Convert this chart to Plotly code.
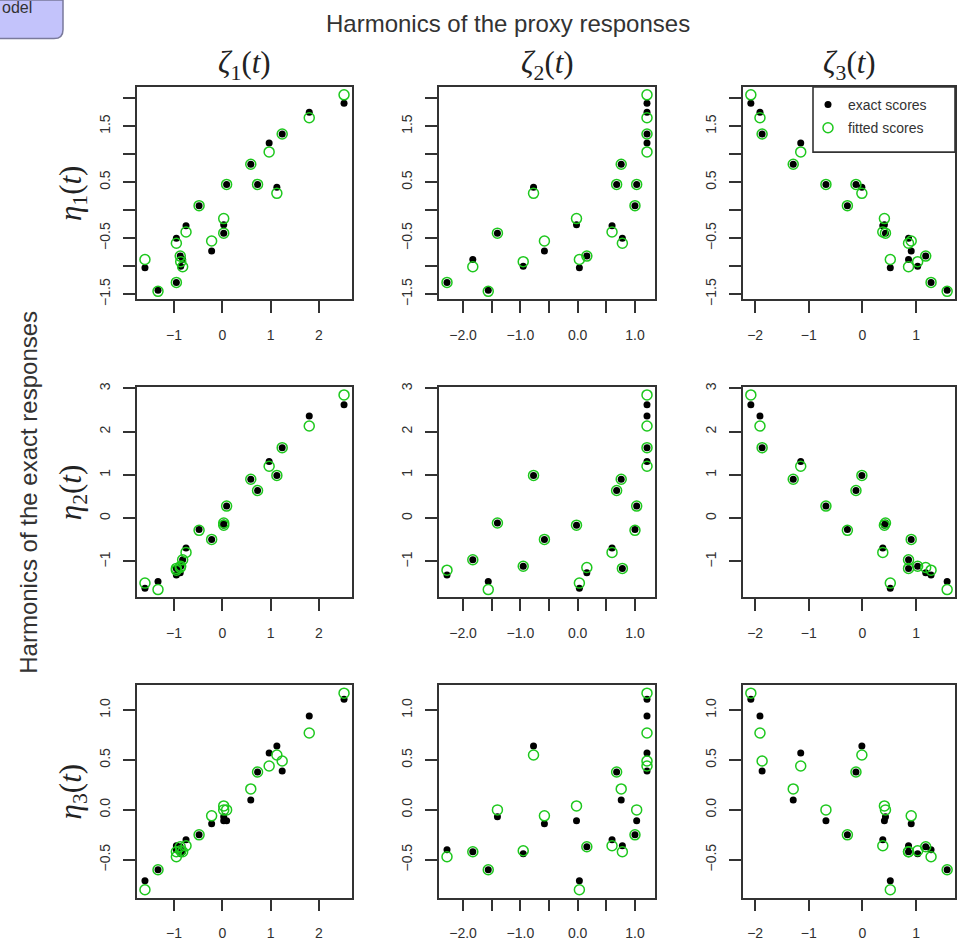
import numpy as np
import plotly.graph_objects as go

# ---------------- data ----------------
zeta1 = [-1.60, -1.33, -0.95, -0.95, -0.82, -0.86, -0.87, -0.75, -0.48, -0.22,
         0.03, 0.03, 0.09, 0.59, 0.73, 0.97, 1.13, 1.24, 1.80, 2.52]
zeta2 = [0.03, -1.56, -2.28, 0.78, -1.83, -0.95, 0.16, 0.60, 1.00, -0.58,
         -0.02, -1.40, 1.03, 0.76, 0.68, 1.21, -0.77, 1.21, 1.21, 1.21]
zeta3 = [0.52, 1.58, 1.28, 0.86, 0.86, 1.03, 1.18, 0.38, -0.28, 0.91,
         0.41, 0.43, -0.68, -1.29, -0.12, -1.15, -0.01, -1.87, -1.91, -2.08]

eta1_exact = [-1.03, -1.43, -1.29, -0.50, -0.88, -1.00, -0.82, -0.28, 0.08, -0.73,
              -0.26, -0.41, 0.46, 0.82, 0.46, 1.20, 0.41, 1.36, 1.75, 1.91]
eta1_fit = [-0.88, -1.45, -1.29, -0.59, -1.01, -0.92, -0.82, -0.39, 0.08, -0.55,
            -0.15, -0.41, 0.46, 0.82, 0.46, 1.04, 0.30, 1.36, 1.65, 2.06]
eta2_exact = [-1.62, -1.46, -1.31, -1.16, -0.96, -1.11, -1.26, -0.69, -0.26, -0.49,
              -0.16, -0.11, 0.28, 0.90, 0.64, 1.31, 0.99, 1.63, 2.36, 2.62]
eta2_fit = [-1.50, -1.65, -1.20, -1.16, -0.96, -1.11, -1.14, -0.79, -0.28, -0.49,
            -0.16, -0.11, 0.28, 0.90, 0.64, 1.20, 0.99, 1.63, 2.13, 2.85]
eta3_exact = [-0.71, -0.60, -0.40, -0.36, -0.42, -0.44, -0.37, -0.30, -0.25, -0.14,
              -0.11, -0.07, -0.11, 0.10, 0.38, 0.57, 0.64, 0.39, 0.94, 1.11]
eta3_fit = [-0.80, -0.60, -0.47, -0.42, -0.42, -0.41, -0.37, -0.36, -0.25, -0.06,
            0.04, 0.00, 0.00, 0.21, 0.38, 0.44, 0.55, 0.49, 0.77, 1.17]

col_titles = ["<i>ζ</i><sub>1</sub>(<i>t</i>)", "<i>ζ</i><sub>2</sub>(<i>t</i>)", "<i>ζ</i><sub>3</sub>(<i>t</i>)"]
row_titles = ["<i>η</i><sub>1</sub>(<i>t</i>)", "<i>η</i><sub>2</sub>(<i>t</i>)", "<i>η</i><sub>3</sub>(<i>t</i>)"]

# labelled ticks
x_tickvals = [[-1, 0, 1, 2], [-2.0, -1.0, 0.0, 1.0], [-2, -1, 0, 1]]
x_ticktext = [["−1", "0", "1", "2"], ["−2.0", "−1.0", "0.0", "1.0"], ["−2", "−1", "0", "1"]]
# unlabelled ticks (labels dropped by overlap in the original)
x_minorvals = [[], [-1.5, -0.5, 0.5], []]
y_tickvals = [[-1.5, -0.5, 0.5, 1.5], [-1, 0, 1, 2, 3], [-0.5, 0.0, 0.5, 1.0]]
y_ticktext = [["−1.5", "−0.5", "0.5", "1.5"], ["−1", "0", "1", "2", "3"],
              ["−0.5", "0.0", "0.5", "1.0"]]
y_minorvals = [[-1.0, 0.0, 1.0, 2.0], [], []]

main_title = "Harmonics of the proxy responses"
side_title = "Harmonics of the exact responses"
legend_labels = ["exact scores", "fitted scores"]

# ---------------- layout helpers ----------------
W, H = 957, 948
col_px = [(137, 352), (439, 655), (743, 955)]
row_px = [(83, 298), (387, 600), (689, 904)]
GREEN = "#1ec81e"
AXC = "#333333"
FONT = "Liberation Sans, Arial, Helvetica, sans-serif"
SERIF = "Liberation Serif, Times New Roman, DejaVu Serif, serif"


def px_x(p):
    return p / W


def px_y(p):
    return 1 - p / H


def rrange(vals):
    lo, hi = float(np.min(vals)), float(np.max(vals))
    d = (hi - lo) * 0.04
    return [lo - d, hi + d]


zetas = [zeta1, zeta2, zeta3]
etas_e = [eta1_exact, eta2_exact, eta3_exact]
etas_f = [eta1_fit, eta2_fit, eta3_fit]

fig = go.Figure()
layout = {}
k = 0
for i in range(3):
    for j in range(3):
        k += 1
        xa = "x" if k == 1 else f"x{k}"
        ya = "y" if k == 1 else f"y{k}"
        fig.add_trace(go.Scatter(
            x=zetas[j], y=etas_e[i], mode="markers", xaxis=xa, yaxis=ya,
            marker=dict(color="black", size=7, symbol="circle"),
            name=legend_labels[0], showlegend=(k == 3), legendgroup="e",
            cliponaxis=False))
        fig.add_trace(go.Scatter(
            x=zetas[j], y=etas_f[i], mode="markers", xaxis=xa, yaxis=ya,
            marker=dict(color=GREEN, size=10, symbol="circle-open",
                        line=dict(color=GREEN, width=1.5)),
            name=legend_labels[1], showlegend=(k == 3), legendgroup="f",
            cliponaxis=False))
        common = dict(showline=True, mirror=True, linecolor=AXC, linewidth=1.6,
                      ticks="outside", ticklen=12, tickwidth=1.6, tickcolor=AXC,
                      showgrid=False, zeroline=False,
                      tickfont=dict(family=FONT, size=14, color="#303030"))
        xminor = dict(tickmode="array", tickvals=x_minorvals[j], ticks="outside",
                      ticklen=12, tickwidth=1.6, tickcolor=AXC, showgrid=False)
        yminor = dict(tickmode="array", tickvals=y_minorvals[i], ticks="outside",
                      ticklen=12, tickwidth=1.6, tickcolor=AXC, showgrid=False)
        layout["xaxis" if k == 1 else f"xaxis{k}"] = dict(
            domain=[px_x(col_px[j][0]), px_x(col_px[j][1])],
            range=rrange(zetas[j]), anchor=ya,
            tickmode="array", tickvals=x_tickvals[j], ticktext=x_ticktext[j],
            minor=xminor, ticklabelstandoff=10, **common)
        layout["yaxis" if k == 1 else f"yaxis{k}"] = dict(
            domain=[px_y(row_px[i][1]), px_y(row_px[i][0])],
            range=rrange(etas_e[i] + etas_f[i]), anchor=xa,
            tickmode="array", tickvals=y_tickvals[i], ticktext=y_ticktext[i],
            minor=yminor, tickangle=-90, ticklabelstandoff=8, **common)

annotations = []
for j in range(3):
    annotations.append(dict(
        text=col_titles[j], x=px_x((col_px[j][0] + col_px[j][1]) / 2), y=px_y(61),
        xref="paper", yref="paper", xanchor="center", yanchor="middle",
        showarrow=False, font=dict(family=SERIF, size=31, color="#222")))
for i in range(3):
    annotations.append(dict(
        text=row_titles[i], x=px_x(73), y=px_y((row_px[i][0] + row_px[i][1]) / 2),
        xref="paper", yref="paper", xanchor="center", yanchor="middle",
        textangle=-90, showarrow=False, font=dict(family=SERIF, size=31, color="#222")))
annotations.append(dict(
    text=main_title, x=px_x(508), y=px_y(19), xref="paper", yref="paper",
    xanchor="center", yanchor="middle", showarrow=False,
    font=dict(family=FONT, size=24, color="#333")))
annotations.append(dict(
    text=side_title, x=px_x(29), y=px_y(494), xref="paper", yref="paper",
    xanchor="center", yanchor="middle", textangle=-90, showarrow=False,
    font=dict(family=FONT, size=24, color="#333")))
annotations.append(dict(
    text="odel", x=px_x(34), y=px_y(13), xref="paper", yref="paper",
    xanchor="right", yanchor="bottom", showarrow=False,
    font=dict(family=FONT, size=16, color="#333")))

shapes = [
    # cropped button in the top-left corner
    dict(type="path", xref="paper", yref="paper",
         path=(f"M {px_x(-5)},{px_y(-5)} L {px_x(63)},{px_y(-5)} L {px_x(63)},{px_y(25)} "
               f"Q {px_x(63)},{px_y(34)} {px_x(54)},{px_y(34)} L {px_x(-5)},{px_y(34)} Z"),
         fillcolor="#c3c3fb", line=dict(color="#7a7a9c", width=1.5), layer="below"),
    # legend box
    dict(type="rect", xref="paper", yref="paper",
         x0=px_x(813), x1=px_x(955), y0=px_y(149), y1=px_y(83),
         fillcolor="white", line=dict(color=AXC, width=1.6), layer="above"),
]

fig.update_layout(
    width=W, height=H, margin=dict(l=0, r=0, t=0, b=0),
    paper_bgcolor="white", plot_bgcolor="white",
    showlegend=True,
    legend=dict(x=px_x(808), y=px_y(85), xanchor="left", yanchor="top",
                bgcolor="rgba(0,0,0,0)", borderwidth=0,
                font=dict(family=FONT, size=14, color="#333"),
                tracegroupgap=2, itemwidth=30),
    annotations=annotations, shapes=shapes, **layout)

fig.write_html("out.html")
